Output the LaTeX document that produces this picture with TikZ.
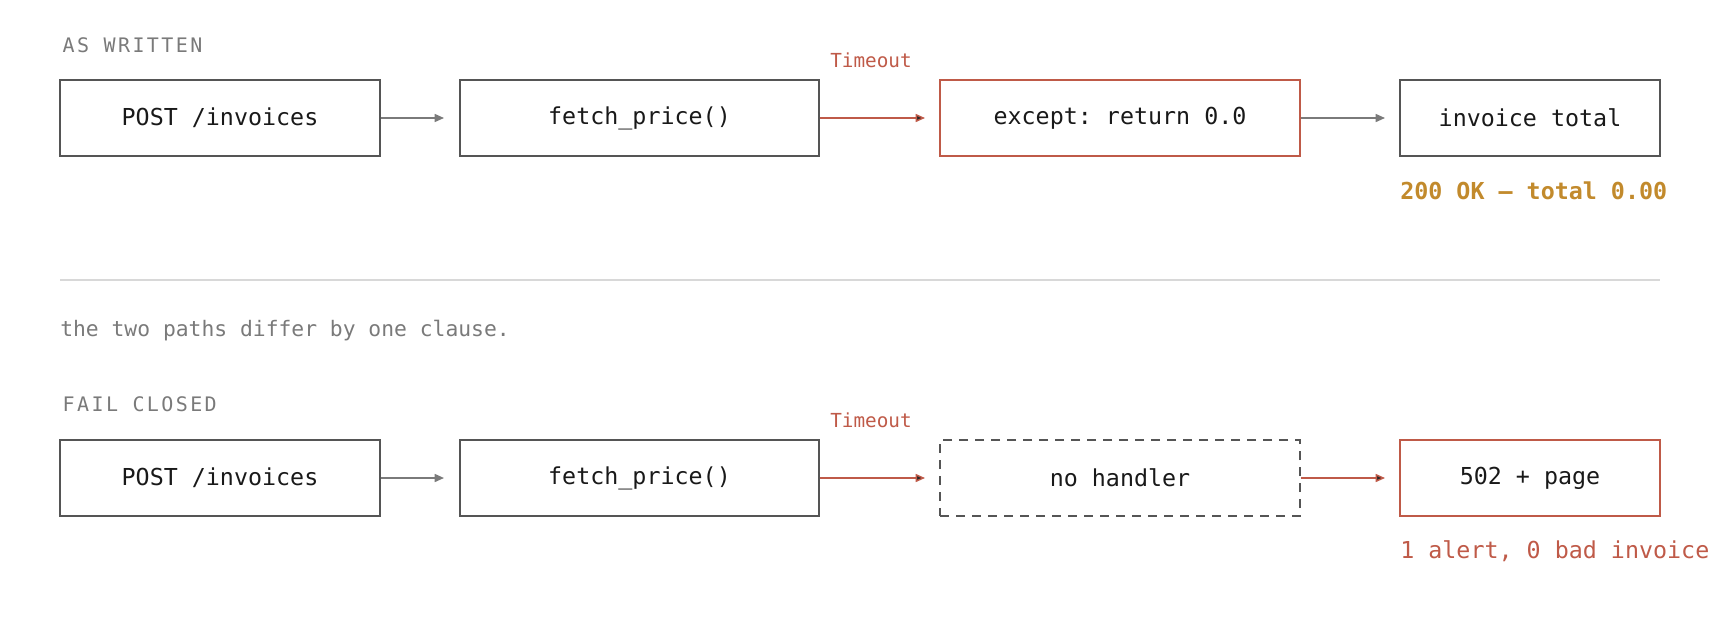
\documentclass[tikz,border=0pt]{standalone}
\usepackage{fontspec}
\setmonofont{DejaVu Sans Mono}
\usetikzlibrary{positioning,arrows.meta}
\definecolor{inkgrey}{HTML}{555555}
\definecolor{softgrey}{HTML}{7A7A7A}
\definecolor{alertred}{HTML}{BF5A48}
\definecolor{okorange}{HTML}{C28A2C}
\definecolor{rulegrey}{HTML}{D8D8D8}
\tikzset{
  stage/.style={draw=inkgrey, line width=1.1pt, minimum height=57pt, inner sep=0pt,
    font=\ttfamily\fontsize{17.5}{20}\selectfont, text=black!90},
  redstage/.style={stage, draw=alertred},
  flow/.style={-{Triangle[length=7pt,width=6pt]}, line width=1.1pt, draw=softgrey},
  fail/.style={flow, draw=alertred, -{Triangle[length=7pt,width=6pt,fill=black!85]}},
  tag/.style={font=\ttfamily\fontsize{14.5}{16}\selectfont, text=alertred},
  heading/.style={anchor=west, font=\ttfamily\fontsize{15}{17}\selectfont\addfontfeature{LetterSpace=12}, text=softgrey},
}
\begin{document}
\begin{tikzpicture}[x=0.75pt, y=-0.75pt]
    \useasboundingbox (0,0) rectangle (1720,640);

    % As written
    \node[heading] (hdA) at (58,45) {AS WRITTEN};
    \node[stage, minimum width=240pt] (postA) at (220,118) {POST /invoices};
    \node[stage, minimum width=269pt] (fetchA) at (639.5,118) {fetch\_price()};
    \node[redstage, minimum width=270pt] (exceptA) at (1120,118) {except: return 0.0};
    \node[stage, minimum width=195pt] (totalA) at (1530,118) {invoice total};
    \coordinate (endA1) at (444,118);
    \coordinate (endA2) at (925,118);
    \coordinate (endA3) at (1385,118);
    \draw[flow] (postA.east) -- (endA1);
    \draw[fail] (fetchA.east) -- (endA2);
    \draw[flow] (exceptA.east) -- (endA3);
    \node[tag] (toA) at (871,60) {Timeout};
    \node[anchor=west, inner sep=0pt, font=\ttfamily\bfseries\fontsize{17.5}{20}\selectfont, text=okorange]
      (okA) at (1400,191) {200 OK — total 0.00};

    % Divider
    \draw[rulegrey, line width=0.8pt] (60,280) -- (1660,280);
    \node[anchor=west, inner sep=0pt, font=\ttfamily\fontsize{16}{18}\selectfont, text=softgrey]
      (note) at (60,331) {the two paths differ by one clause.};

    % Fail closed
    \node[heading] (hdB) at (58,404) {FAIL CLOSED};
    \node[stage, minimum width=240pt] (postB) at (220,478) {POST /invoices};
    \node[stage, minimum width=269pt] (fetchB) at (639.5,478) {fetch\_price()};
    \node[stage, dashed, dash pattern=on 7pt off 5pt, minimum width=270pt] (noneB) at (1120,478) {no handler};
    \node[redstage, minimum width=195pt] (pageB) at (1530,478) {502 + page};
    \coordinate (endB1) at (444,478);
    \coordinate (endB2) at (925,478);
    \coordinate (endB3) at (1385,478);
    \draw[flow] (postB.east) -- (endB1);
    \draw[fail] (fetchB.east) -- (endB2);
    \draw[fail] (noneB.east) -- (endB3);
    \node[tag] (toB) at (871,420) {Timeout};
    \node[anchor=west, inner sep=0pt, font=\ttfamily\fontsize{17.5}{20}\selectfont, text=alertred]
      (alertB) at (1400,551) {1 alert, 0 bad invoice};
\end{tikzpicture}
\end{document}
